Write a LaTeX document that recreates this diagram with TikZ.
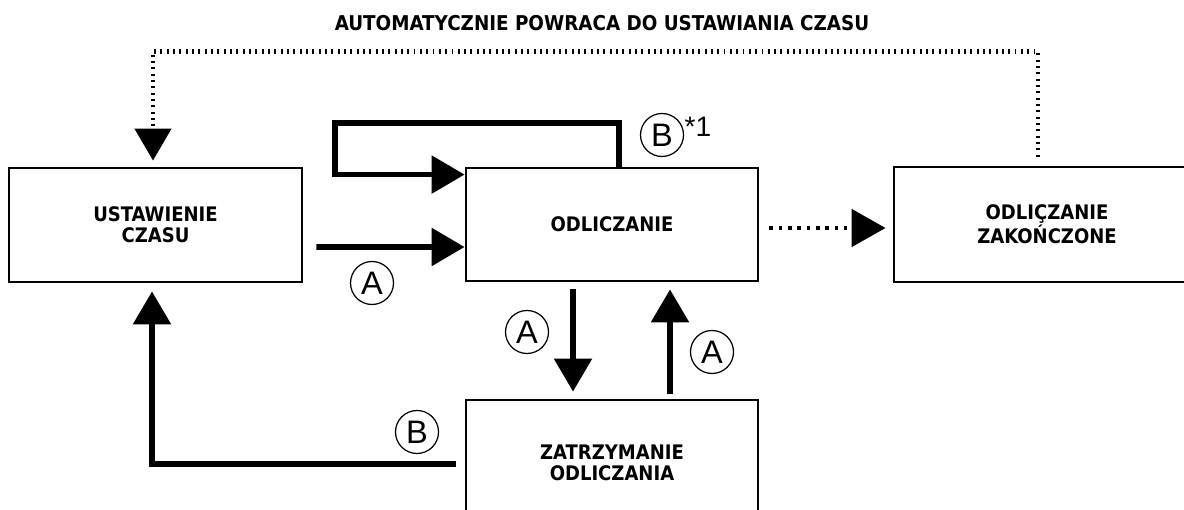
\documentclass[tikz,border=0pt]{standalone}
\usepackage{fontspec}
\setmainfont{Liberation Sans}
\newfontfamily\statefont{DejaVu Sans Condensed}
\usetikzlibrary{arrows.meta,positioning,calc,shapes.geometric}
\definecolor{ink}{HTML}{000000}
\definecolor{paper}{HTML}{FFFFFF}
\tikzset{
  state/.style={draw=ink, line width=1.6pt, fill=paper, align=center, text=ink,
                font=\statefont\bfseries\fontsize{11.4}{11.8}\selectfont, inner sep=2pt},
  arrow/.style={-{Triangle[length=6.6mm,width=7.4mm]}, draw=ink, line width=3.2pt},
  dotline/.style={draw=ink, line width=2.6pt, dash pattern=on 1.1pt off 2.5pt},
  dotarrow/.style={dotline, -{Triangle[length=6.4mm,width=7.2mm]}},
  bigdots/.style={draw=ink, line width=2.8pt, dash pattern=on 2pt off 3.3pt,
                  -{Triangle[length=6.8mm,width=7.4mm]}},
  key/.style={circle, draw=ink, line width=0.7pt, minimum size=0.86cm,
              inner sep=0pt, font=\fontsize{18.5}{18.5}\selectfont, text=ink},
}
\begin{document}
\begin{tikzpicture}
\useasboundingbox (0,0) rectangle (23.68,10.2);
% states
\node[state, minimum width=5.86cm, minimum height=2.28cm] (ust) at (3.11,5.70) {USTAWIENIE\\CZASU};
\node[state, minimum width=5.84cm, minimum height=2.26cm] (odl) at (12.24,5.71) {ODLICZANIE};
\node[state, minimum width=6.12cm, minimum height=2.30cm] (zak) at (20.94,5.71) {ODLIÇZANIE\\ZAKOŃCZONE};
\node[state, minimum width=5.84cm, minimum height=2.52cm] (zat) at (12.24,0.94) {ZATRZYMANIE\\ODLICZANIA};
\node[font=\statefont\bfseries\fontsize{11.6}{12}\selectfont] (title) at (12.04,9.74) {AUTOMATYCZNIE POWRACA DO USTAWIANIA CZASU};

% connectors
\coordinate (loop) at (6.70,7.74);
\draw[dotarrow] ([xshift=-1.8mm,yshift=1.8mm]zak.north) -- ++(0,2.1) -| ([xshift=-0.5mm,yshift=1.2mm]ust.north);
\draw[arrow] ([xshift=1.4mm,yshift=-0.4mm]odl.north) |- (loop) |- ([yshift=-1.6mm]odl.north west);
\draw[arrow] ([xshift=2.6mm,yshift=-4.4mm]ust.east) -- ([yshift=-4.5mm]odl.west);
\draw[bigdots] ([xshift=2mm,yshift=-0.7mm]odl.east) -- ([xshift=-1.4mm,yshift=-0.7mm]odl.east -| zak.west);
\draw[arrow] ([xshift=-7.8mm,yshift=-1.4mm]odl.south) -- ([xshift=-7.8mm,yshift=1.4mm]zat.north);
\draw[arrow] ([xshift=11.6mm,yshift=1mm]zat.north) -- ([xshift=11.6mm,yshift=-1.4mm]odl.south);
\draw[arrow] ([xshift=-1.8mm,yshift=-0.2mm]zat.west) -| ([xshift=-0.7mm,yshift=-1.6mm]ust.south);

% keys
\node[key] (kb1) at (13.24,7.50) {B};
\node[font=\fontsize{16}{16}\selectfont, inner sep=0pt] (star) at (13.96,7.66) {*1};
\node[key] (ka1) at (7.44,4.54) {A};
\node[key] (ka2) at (10.54,3.56) {A};
\node[key] (ka3) at (14.24,3.16) {A};
\node[key] (kb2) at (8.34,1.56) {B};
\end{tikzpicture}
\end{document}
